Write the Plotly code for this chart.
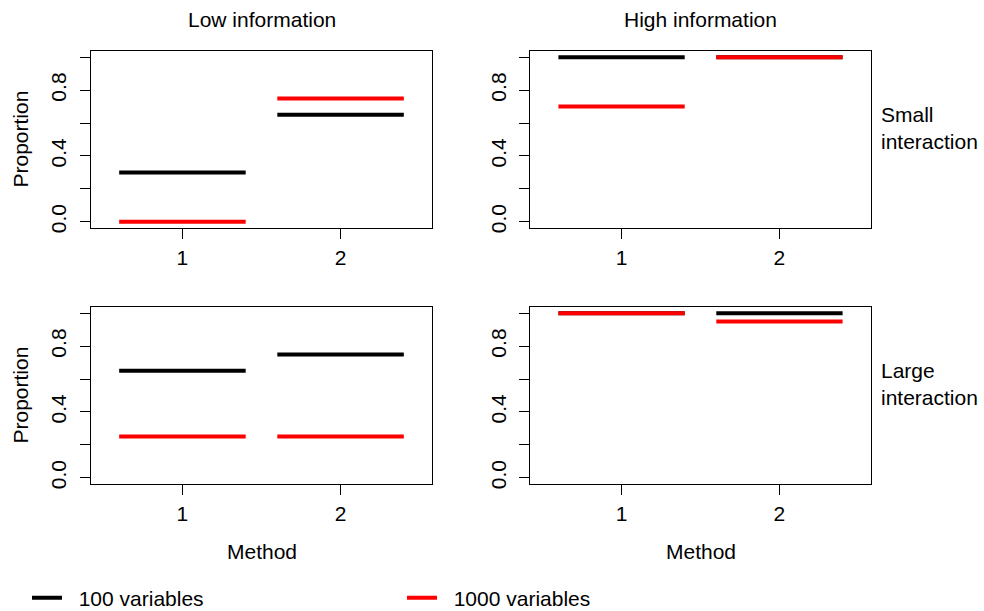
import plotly.graph_objects as go

# ---- data ----
methods = [1, 2]
series_names = ["100 variables", "1000 variables"]
series_colors = ["#000000", "#ff0000"]

low_small_100 = [0.30, 0.65]
low_small_1000 = [0.00, 0.75]
high_small_100 = [1.00, 1.00]
high_small_1000 = [0.70, 1.00]
low_large_100 = [0.65, 0.75]
low_large_1000 = [0.25, 0.25]
high_large_100 = [1.00, 1.00]
high_large_1000 = [1.00, 0.95]

col_titles = ["Low information", "High information"]
row_titles = ["Small<br>interaction", "Large<br>interaction"]
x_title = "Method"
y_title = "Proportion"
y_tickvals = [0.0, 0.2, 0.4, 0.6, 0.8, 1.0]
y_ticktext = ["0.0", "", "0.4", "", "0.8", ""]
x_tickvals = [1, 2]
x_ticktext = ["1", "2"]

# ---- layout geometry (pixels) ----
W, H = 984, 611
HALF = 0.4
col_px = [(90.7, 432.3), (530.0, 871.0)]
row_px = [(50.7, 228.3), (306.7, 484.3)]
FONT = "Arial, 'Liberation Sans', sans-serif"
FS = 21
PAD = "\u00a0\u00a0"

panels = [
    (0, 0, low_small_100, low_small_1000),
    (0, 1, high_small_100, high_small_1000),
    (1, 0, low_large_100, low_large_1000),
    (1, 1, high_large_100, high_large_1000),
]


def seg(vals):
    xs, ys = [], []
    for m, v in zip(methods, vals):
        xs += [m - HALF, m + HALF, None]
        ys += [v, v, None]
    return xs, ys


fig = go.Figure()
layout = dict(
    width=W, height=H, margin=dict(l=0, r=0, t=0, b=0, autoexpand=False),
    paper_bgcolor="white", plot_bgcolor="white",
    font=dict(family=FONT, size=FS, color="black"),
)

for k, (r, c, s100, s1000) in enumerate(panels, start=1):
    suffix = "" if k == 1 else str(k)
    for name, color, vals in zip(series_names, series_colors, [s100, s1000]):
        xs, ys = seg(vals)
        fig.add_trace(go.Scatter(
            x=xs, y=ys, mode="lines", name=PAD + name,
            line=dict(color=color, width=4),
            legendgroup=name, showlegend=(k == 1),
            xaxis="x" + suffix, yaxis="y" + suffix, hoverinfo="skip",
        ))
    x0, x1 = col_px[c]
    y0, y1 = row_px[r]
    axcommon = dict(showline=True, mirror=True, linecolor="black", linewidth=1,
                    ticks="outside", ticklen=10, tickwidth=1, tickcolor="black",
                    showgrid=False, zeroline=False, fixedrange=True,
                    tickfont=dict(family=FONT, size=FS, color="black"))
    layout["xaxis" + suffix] = dict(
        domain=[x0 / W, x1 / W], range=[0.42, 2.58], anchor="y" + suffix,
        tickvals=x_tickvals, ticktext=x_ticktext, **axcommon)
    layout["yaxis" + suffix] = dict(
        domain=[1 - y1 / H, 1 - y0 / H], range=[-0.04, 1.04], anchor="x" + suffix,
        tickvals=y_tickvals, ticktext=y_ticktext, tickangle=-90,
        ticklabelstandoff=5, **axcommon)

ann = []
for c, t in enumerate(col_titles):
    x0, x1 = col_px[c]
    ann.append(dict(text=t, x=(x0 + x1) / 2 / W, y=1 - 19.5 / H, xref="paper", yref="paper",
                    xanchor="center", yanchor="middle", showarrow=False))
    ann.append(dict(text=x_title, x=(x0 + x1) / 2 / W, y=1 - 551 / H, xref="paper", yref="paper",
                    xanchor="center", yanchor="middle", showarrow=False))
for r, t in enumerate(row_titles):
    y0, y1 = row_px[r]
    ann.append(dict(text=y_title, x=20 / W, y=1 - (y0 + y1) / 2 / H, xref="paper", yref="paper",
                    xanchor="center", yanchor="middle", textangle=-90, showarrow=False))
    yc = [127.5, 383.5][r]
    ann.append(dict(text=t, x=879 / W, y=1 - yc / H, xref="paper", yref="paper",
                    xanchor="left", yanchor="middle", align="left", showarrow=False))
layout["annotations"] = ann
layout["showlegend"] = True
layout["legend"] = dict(orientation="h", x=27 / W, y=1 - 598 / H, xanchor="left", yanchor="middle",
                        entrywidth=330, entrywidthmode="pixels",
                        bgcolor="rgba(0,0,0,0)",
                        font=dict(family=FONT, size=FS, color="black"))
fig.update_layout(**layout)
fig.write_html("out.html")
